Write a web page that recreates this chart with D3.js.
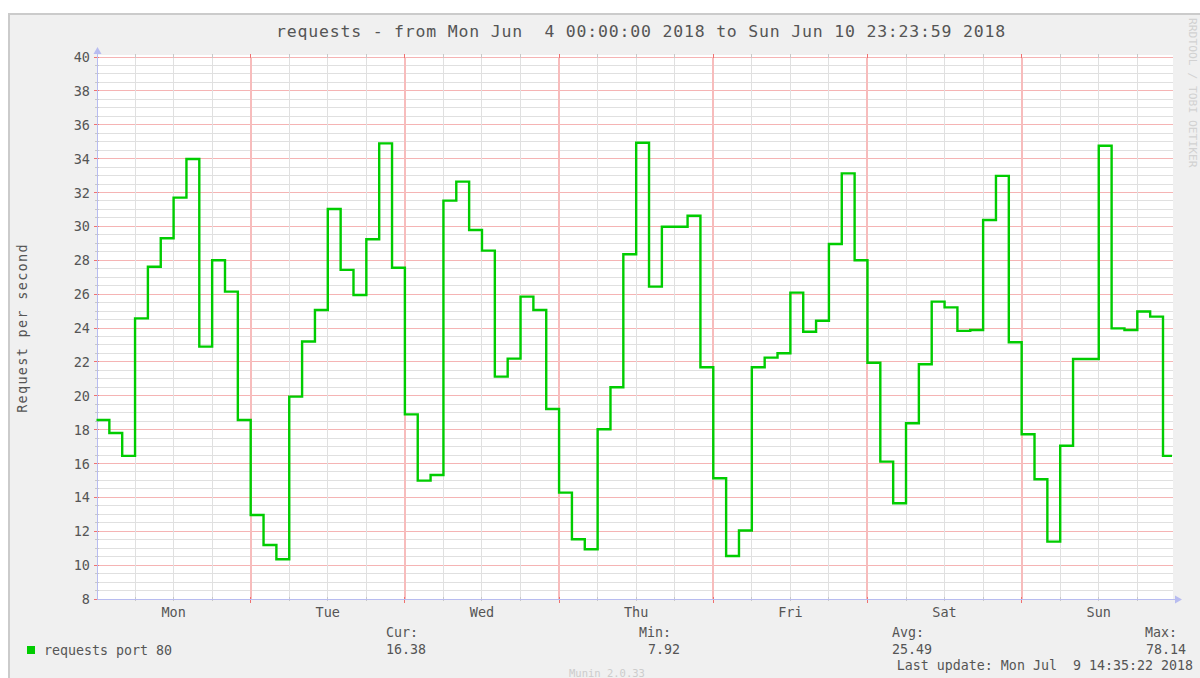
<!DOCTYPE html>
<html>
<head>
<meta charset="utf-8">
<script src="https://cdn.jsdelivr.net/npm/d3@7"></script>
<style>
body { margin: 0; background: #fff; }
svg text { font-family: "DejaVu Sans Mono", monospace; fill: #555; }
</style>
</head>
<body>
<svg width="1200" height="678"></svg>
<script>
// 2-hour averages, one array per day (Mon Jun 4 .. Sun Jun 10 2018)
const mon = [18.57, 17.8, 16.45, 24.57, 27.62, 29.3, 31.7, 33.98, 22.9, 28.0, 26.15, 18.57]
const tue = [12.96, 11.19, 10.35, 19.95, 23.2, 25.06, 31.03, 27.43, 25.95, 29.24, 34.9, 27.56]
const wed = [18.9, 14.99, 15.32, 31.52, 32.64, 29.79, 28.57, 21.13, 22.19, 25.85, 25.06, 19.22]
const thu = [14.28, 11.53, 10.94, 18.02, 20.5, 28.35, 34.94, 26.44, 29.98, 29.98, 30.63, 21.68]
const fri = [15.13, 10.54, 12.04, 21.68, 22.25, 22.51, 26.09, 23.78, 24.43, 28.96, 33.13, 28.0]
const sat = [21.95, 16.11, 13.65, 18.38, 21.86, 25.56, 25.22, 23.83, 23.88, 30.38, 32.98, 23.16]
const sun = [17.73, 15.07, 11.39, 17.05, 22.17, 22.17, 34.76, 23.98, 23.88, 24.97, 24.67, 16.45]

const yTicks = [8, 10, 12, 14, 16, 18, 20, 22, 24, 26, 28, 30, 32, 34, 36, 38, 40]
const statLabels = ["Cur:", "Min:", "Avg:", "Max:"]
const statValues = ["16.38", "7.92", "25.49", "78.14"]

const start = new Date(Date.UTC(2018, 5, 4, 0, 0, 0))
const end = new Date(Date.UTC(2018, 5, 10, 23, 23, 59))

const values = [].concat(mon, tue, wed, thu, fri, sat, sun)
const points = values.map((v, i) => ({t: d3.utcHour.offset(start, 2 * i), v: v}))
points.push({t: end, v: values[values.length - 1]})

const x = d3.scaleUtc().domain([start, end]).range([96.5, 1172])
const y = d3.scaleLinear().domain([8, 40]).range([599, 57])
const x0 = 97, x1 = 1173
const yb = y.range()[0], yt = y.range()[1]
const px = v => Math.floor(v) + 0.5
const isDay = d => d.getUTCHours() === 0

const svg = d3.select("svg")

// canvas + frame
svg.append("rect")
  .attr("x", 9).attr("y", 14)
  .attr("width", 1200).attr("height", 680)
  .attr("fill", "#f0f0f0")
  .attr("stroke", "#cbcbcb")
  .attr("stroke-width", 2)

svg.append("rect")
  .attr("x", x0).attr("y", yt - 2)
  .attr("width", x1 - x0).attr("height", yb - yt + 2)
  .attr("fill", "#fff")

const gridGrey = "#e0e0e0", gridRed = "#f5b4b4", dayRed = "#f7bcbc"

// horizontal grid, 0.5 minor / 2 major
const allY = d3.range(8, 40.01, 0.5)
svg.append("g").selectAll("line")
  .data(allY).enter().append("line")
  .attr("x1", x0).attr("x2", x1)
  .attr("y1", d => px(y(d))).attr("y2", d => px(y(d)))
  .attr("stroke", d => d % 2 === 0 ? gridRed : gridGrey)

// vertical grid, 6h minor / day major
const allX = d3.utcHour.every(6).range(d3.utcHour.offset(start, 6), end)
svg.append("g").selectAll("line")
  .data(allX.filter(d => !isDay(d))).enter().append("line")
  .attr("x1", d => px(x(d))).attr("x2", d => px(x(d)))
  .attr("y1", yt).attr("y2", yb)
  .attr("stroke", gridGrey)
svg.append("g").selectAll("line")
  .data(allX.filter(isDay)).enter().append("line")
  .attr("x1", d => Math.round(x(d))).attr("x2", d => Math.round(x(d)))
  .attr("y1", yt).attr("y2", yb)
  .attr("stroke", dayRed)
  .attr("stroke-width", 2)

// small tick marks on the frame edges
svg.append("g").selectAll("line")
  .data(allX).enter().append("line")
  .attr("x1", d => px(x(d))).attr("x2", d => px(x(d)))
  .attr("y1", yb - 2).attr("y2", d => isDay(d) ? yb + 4 : yb + 2)
  .attr("stroke", d => isDay(d) ? "#f07070" : "#c8c8c8")
svg.append("g").selectAll("line")
  .data(allX).enter().append("line")
  .attr("x1", d => px(x(d))).attr("x2", d => px(x(d)))
  .attr("y1", yt - 3).attr("y2", yt + 1)
  .attr("stroke", d => isDay(d) ? "#f07070" : "#c8c8c8")
svg.append("g").selectAll("line")
  .data(allY).enter().append("line")
  .attr("x1", d => d % 2 === 0 ? x0 - 3 : x0 - 2).attr("x2", x0 + 2)
  .attr("y1", d => px(y(d))).attr("y2", d => px(y(d)))
  .attr("stroke", d => d % 2 === 0 ? "#f07070" : "#c8c8c8")

// axis lines with arrows
const axisColor = "#b8bcf0"
svg.append("line")
  .attr("x1", x0 + 0.5).attr("x2", x0 + 0.5)
  .attr("y1", yb).attr("y2", yt - 5)
  .attr("stroke", axisColor)
svg.append("path")
  .attr("d", `M${x0 - 3.5},${yt - 3} L${x0 + 0.5},${yt - 10} L${x0 + 4.5},${yt - 3} Z`)
  .attr("fill", axisColor)
svg.append("line")
  .attr("x1", x0).attr("x2", x1 + 4)
  .attr("y1", yb + 0.5).attr("y2", yb + 0.5)
  .attr("stroke", axisColor)
svg.append("path")
  .attr("d", `M${x1 + 2},${yb - 3.5} L${x1 + 9},${yb + 0.5} L${x1 + 2},${yb + 4.5} Z`)
  .attr("fill", axisColor)

// y tick labels
svg.append("g")
  .selectAll("text")
  .data(yTicks).enter()
  .append("text")
  .attr("x", x0 - 7)
  .attr("y", d => y(d) + 5)
  .attr("text-anchor", "end")
  .attr("font-size", "13.5px")
  .text(d => d)

// day labels centred at noon
svg.append("g")
  .selectAll("text")
  .data(d3.utcDay.range(start, end)).enter()
  .append("text")
  .attr("x", d => x(d3.utcHour.offset(d, 12)))
  .attr("y", 617)
  .attr("text-anchor", "middle")
  .attr("font-size", "13.5px")
  .text(d => d3.utcFormat("%a")(d))

// the series
const line = d3.line()
  .x(d => x(d.t))
  .y(d => y(d.v))
  .curve(d3.curveStepAfter)

svg.append("path")
  .datum(points)
  .attr("d", line)
  .attr("fill", "none")
  .attr("stroke", "#00cc00")
  .attr("stroke-width", 2.4)

// titles
svg.append("text")
  .attr("x", 641).attr("y", 37)
  .attr("text-anchor", "middle")
  .attr("font-size", "16.5px")
  .attr("letter-spacing", "0.8px")
  .style("white-space", "pre")
  .text("requests - from Mon Jun  4 00:00:00 2018 to Sun Jun 10 23:23:59 2018")

svg.append("text")
  .attr("transform", "translate(27,328) rotate(-90)")
  .attr("text-anchor", "middle")
  .attr("font-size", "13.5px")
  .attr("letter-spacing", "1.3px")
  .text("Request per second")

svg.append("text")
  .attr("transform", "translate(1189,18) rotate(90)")
  .attr("font-size", "11.3px")
  .style("fill", "#d2d2d2")
  .text("RRDTOOL / TOBI OETIKER")

// legend
svg.append("rect")
  .attr("x", 27).attr("y", 646)
  .attr("width", 8).attr("height", 8)
  .attr("fill", "#00cc00")
svg.append("text")
  .attr("x", 44).attr("y", 655)
  .attr("font-size", "13.3px")
  .text("requests port 80")

const statX = [386, 639, 892, 1145]
const statValX = [386, 648, 892, 1146]
svg.append("g").selectAll("text")
  .data(statLabels).enter().append("text")
  .attr("x", (d, i) => statX[i]).attr("y", 637)
  .attr("font-size", "13.3px")
  .text(d => d)
svg.append("g").selectAll("text")
  .data(statValues).enter().append("text")
  .attr("x", (d, i) => statValX[i]).attr("y", 654)
  .attr("font-size", "13.3px")
  .text(d => d)

svg.append("text")
  .attr("x", 1193).attr("y", 670)
  .attr("text-anchor", "end")
  .attr("font-size", "13.3px")
  .style("white-space", "pre")
  .text("Last update: Mon Jul  9 14:35:22 2018")

svg.append("text")
  .attr("x", 569).attr("y", 677)
  .attr("font-size", "10.5px")
  .style("fill", "#cccccc")
  .text("Munin 2.0.33")
</script>
</body>
</html>
